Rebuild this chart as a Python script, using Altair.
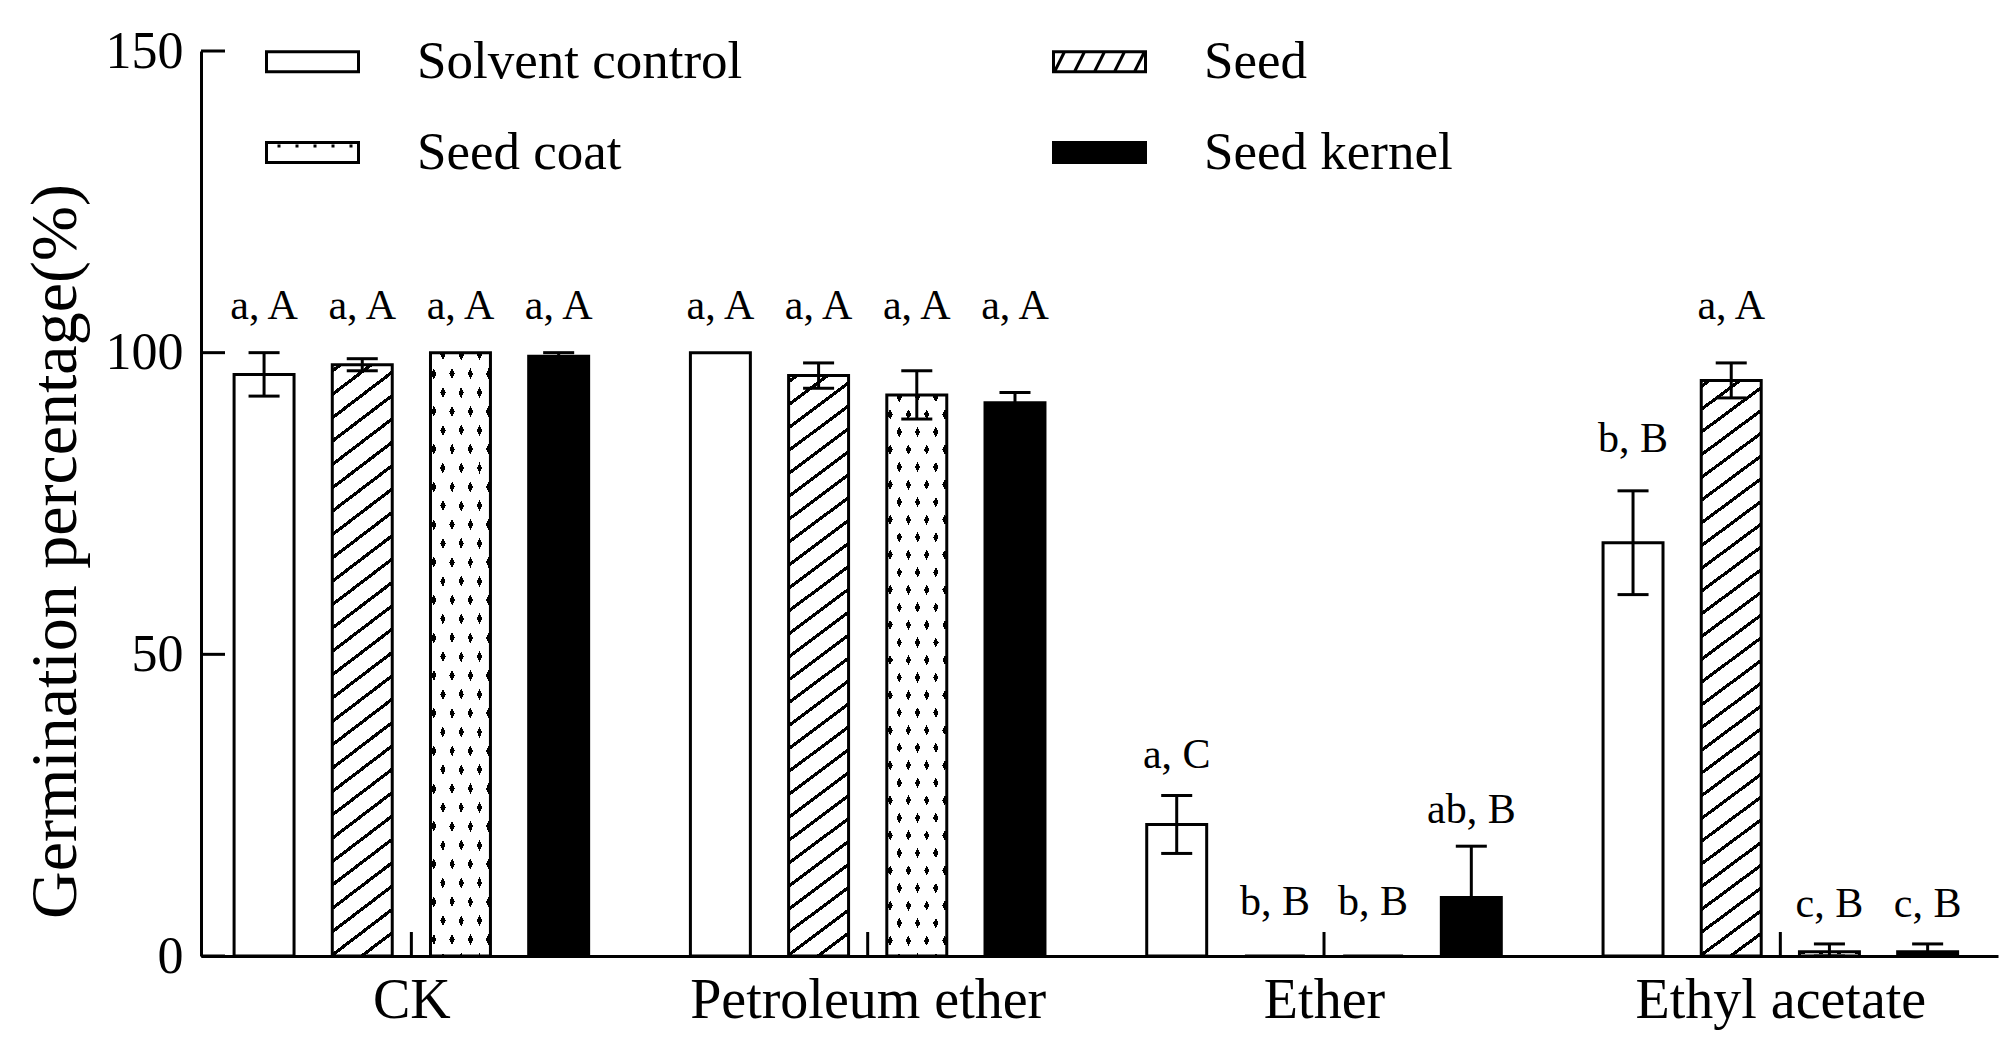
import json
import math
import altair as alt
import pandas as pd

# ---------------- data ----------------
groups = ["CK", "Petroleum ether", "Ether", "Ethyl acetate"]
series = ["Solvent control", "Seed", "Seed coat", "Seed kernel"]

solvent_mean = [96.4, 100.0, 21.8, 68.5]
solvent_err = [3.6, 0.0, 4.8, 8.6]
seed_mean = [98.0, 96.2, 0.0, 95.4]
seed_err = [1.0, 2.1, 0.0, 2.9]
coat_mean = [100.0, 93.0, 0.0, 0.7]
coat_err = [0.0, 4.0, 0.0, 1.3]
kernel_mean = [99.4, 91.7, 9.7, 0.7]
kernel_err = [0.6, 1.7, 8.5, 1.3]

solvent_label = ["a, A", "a, A", "a, C", "b, B"]
seed_label = ["a, A", "a, A", "b, B", "a, A"]
coat_label = ["a, A", "a, A", "b, B", "c, B"]
kernel_label = ["a, A", "a, A", "ab, B", "c, B"]

solvent_label_y = [105.5, 105.5, 31.1, 83.5]
seed_label_y = [105.5, 105.5, 6.8, 105.5]
coat_label_y = [105.5, 105.5, 6.8, 6.4]
kernel_label_y = [105.5, 105.5, 22.0, 6.4]

y_ticks = [0, 50, 100, 150]

means = [solvent_mean, seed_mean, coat_mean, kernel_mean]
errs = [solvent_err, seed_err, coat_err, kernel_err]
labels = [solvent_label, seed_label, coat_label, kernel_label]
label_ys = [solvent_label_y, seed_label_y, coat_label_y, kernel_label_y]

rows = []
for si, s in enumerate(series):
    for gi, g in enumerate(groups):
        rows.append({"group": g, "gi": gi, "series": s, "si": si,
                     "mean": means[si][gi], "err": errs[si][gi],
                     "label": labels[si][gi], "label_y": label_ys[si][gi]})
df = pd.DataFrame(rows)

# ---------------- layout / style ----------------
W, H = 1797, 905
X_DOMAIN = [-0.461, 3.477]
SLOT = 0.2152       # distance between bars of a group (group units)
BAR_HALF = 0.0657   # half bar width (group units)
CAP_HALF = 0.034    # half error-cap width
FONT = "Liberation Serif"
LW = 3


def band_stops(centers, hw, on, off):
    stops = [{"offset": 0.0, "color": off}]
    for c in sorted(centers):
        lo, hi = max(0.0, c - hw), min(1.0, c + hw)
        if hi <= 0 or lo >= 1:
            continue
        stops += [{"offset": round(lo, 5), "color": off},
                  {"offset": round(lo, 5), "color": on},
                  {"offset": round(hi, 5), "color": on},
                  {"offset": round(hi, 5), "color": off}]
    stops.append({"offset": 1.0, "color": off})
    return stops


def frange(start, step, stop=1.0):
    out, v = [], start
    while v < stop:
        out.append(v)
        v += step
    return out


bar_w_px = 60.0
bar_h_px = 96.5 * H / 150.0

# diagonal hatch ("/", slope 0.75, 23 px apart vertically) for the Seed bars
SLOPE = 0.75
a = SLOPE * bar_w_px / bar_h_px
k = (1 + a) / (1 + a * a)
span = bar_h_px * (1 + a)
hatch_fill = {"gradient": "linear", "x1": 0, "y1": 0, "x2": a * k, "y2": k,
              "stops": band_stops(frange(0.01, 23.0 / span),
                                  1.6 * math.sqrt(1 + SLOPE ** 2) / span,
                                  "black", "white")}

# staggered dot pattern for the Seed coat bars: two crossing line families,
# black lines of one family seen only through the gaps of a white mask of the other
DX, DY = 9.15, 18.2
A_ = DY * bar_w_px
B_ = DX * bar_h_px
norm = A_ + B_
lam = norm / (A_ ** 2 + B_ ** 2)
per = 2 * DX * DY / norm
f1_0 = (DY * 3.3 + DX * 20.3) / norm
f2_0 = (DY * 3.3 - DX * 20.3 + B_) / norm
dot_hw = 2.4 * math.hypot(DX, DY) / norm
fam1 = {"gradient": "linear", "x1": 0, "y1": 0, "x2": A_ * lam, "y2": B_ * lam,
        "stops": band_stops(frange(f1_0 % per, per), dot_hw, "black", "white")}
fam2 = {"gradient": "linear", "x1": 0, "y1": 1, "x2": A_ * lam, "y2": 1 - B_ * lam,
        "stops": band_stops(frange(f2_0 % per, per), dot_hw,
                            "rgba(255,255,255,0)", "white")}

# legend swatch paths (units of 10 px)
HW, HH = 4.6, 1.0
LS = 2.0
rect_path = f"M{-HW},{-HH}H{HW}V{HH}H{-HW}Z"
hatch_path = rect_path
for c in [-8.0, -4.0, 0.0, 4.0, 8.0]:
    xa = max(-HW, (c - HH) / LS)
    xb = min(HW, (c + HH) / LS)
    hatch_path += f"M{xa:.3f},{c - LS * xa:.3f}L{xb:.3f},{c - LS * xb:.3f}"
dots_path = rect_path
for xd in [-3.35, -1.55, 0.25, 2.05, 3.85]:
    dots_path += f"M{xd - 0.15:.2f},-0.65H{xd + 0.15:.2f}"

xs = alt.Scale(domain=X_DOMAIN, nice=False, zero=False)
ys = alt.Scale(domain=[0, 150], nice=False, zero=True)

x_axis = alt.Axis(values=list(range(len(groups))),
                  labelExpr=f"{json.dumps(groups)}[datum.value]",
                  title=None, labelFont=FONT, labelFontSize=56, labelColor="black",
                  labelPadding=61, labelBaseline="alphabetic", labelFlush=False,
                  labelOverlap=False, labelLimit=1000, ticks=False, grid=False,
                  domainColor="black", domainWidth=LW)
y_axis = alt.Axis(values=y_ticks, title="Germination percentage(%)",
                  titleFont=FONT, titleFontSize=66, titleFontWeight="normal",
                  titleColor="black", titleX=-126, titleY=500, titleAngle=270,
                  titleAlign="center", titleBaseline="alphabetic", titleLimit=2000,
                  labelFont=FONT, labelFontSize=52, labelColor="black",
                  labelPadding=18, labelBaseline="middle", ticks=False, grid=False,
                  domainColor="black", domainWidth=LW)


def X(field):
    return alt.X(field, scale=xs, axis=x_axis)


def Y(field):
    return alt.Y(field, scale=ys, axis=y_axis)


base = alt.Chart(df).transform_calculate(
    pos=f"datum.gi + (datum.si - 1.5) * {SLOT}",
).transform_calculate(
    x0=f"datum.pos - {BAR_HALF}",
    x1=f"datum.pos + {BAR_HALF}",
    c0=f"datum.pos - {CAP_HALF}",
    c1=f"datum.pos + {CAP_HALF}",
    lo="max(datum.mean - datum.err, 0)",
    hi="datum.mean + datum.err",
)


def bars(name, **kw):
    return base.transform_filter(alt.datum.series == name).mark_bar(**kw).encode(
        x=X("x0:Q"), x2="x1:Q", y=Y("mean:Q"), y2=alt.datum(0))


solvent = bars("Solvent control", fill="white", stroke="black", strokeWidth=LW)
seed = bars("Seed", fill=hatch_fill, stroke="black", strokeWidth=LW)
coat_a = bars("Seed coat", fill=fam1, strokeWidth=0)
coat_b = bars("Seed coat", fill=fam2, stroke="black", strokeWidth=LW)
kernel = bars("Seed kernel", fill="black", stroke="black", strokeWidth=LW)

eb = base.transform_filter(alt.datum.err > 0)
whisker = eb.mark_rule(color="black", strokeWidth=LW).encode(
    x=X("pos:Q"), y=Y("lo:Q"), y2="hi:Q")
cap_hi = eb.mark_rule(color="black", strokeWidth=LW).encode(
    x=X("c0:Q"), x2="c1:Q", y=Y("hi:Q"))
cap_lo = eb.mark_rule(color="black", strokeWidth=LW).encode(
    x=X("c0:Q"), x2="c1:Q", y=Y("lo:Q"))

text = base.mark_text(font=FONT, fontSize=42, color="black",
                      baseline="alphabetic", align="center").encode(
    x=X("pos:Q"), y=Y("label_y:Q"), text="label:N")

ytick = alt.Chart(pd.DataFrame({"v": y_ticks})).mark_rule(
    color="black", strokeWidth=LW).encode(
    y=Y("v:Q"), x=alt.value(0), x2=alt.value(24))
xtick = alt.Chart(pd.DataFrame({"g": list(range(len(groups)))})).mark_rule(
    color="black", strokeWidth=LW).encode(
    x=X("g:Q"), y=alt.value(H), y2=alt.value(H - 24))

leg = alt.Legend(title=None, orient="none", direction="horizontal",
                 legendX=85, legendY=-16, columns=2,
                 columnPadding=304, rowPadding=37, symbolSize=400,
                 symbolStrokeWidth=LW, symbolOpacity=1,
                 labelFont=FONT, labelFontSize=53, labelColor="black",
                 labelOffset=78, labelLimit=1000, padding=0)
legend_layer = alt.Chart(df).mark_point(
    filled=True, opacity=0, stroke="black", strokeWidth=LW).encode(
    fill=alt.Fill("series:N", sort=series,
                  scale=alt.Scale(domain=series, range=["white", "white", "white", "black"]),
                  legend=leg),
    shape=alt.Shape("series:N", sort=series,
                    scale=alt.Scale(domain=series,
                                    range=[rect_path, hatch_path, dots_path, rect_path]),
                    legend=leg),
)

chart = alt.layer(
    solvent, seed, coat_a, coat_b, kernel, whisker, cap_hi, cap_lo, text,
    ytick, xtick, legend_layer
).properties(
    width=W, height=H,
    padding={"left": 193, "top": 43, "right": 5, "bottom": 80},
    autosize=alt.AutoSizeParams(type="none"),
    background="white",
).configure_view(strokeWidth=0)

chart.save("out.html", embed_options={"renderer": "svg", "actions": False})
